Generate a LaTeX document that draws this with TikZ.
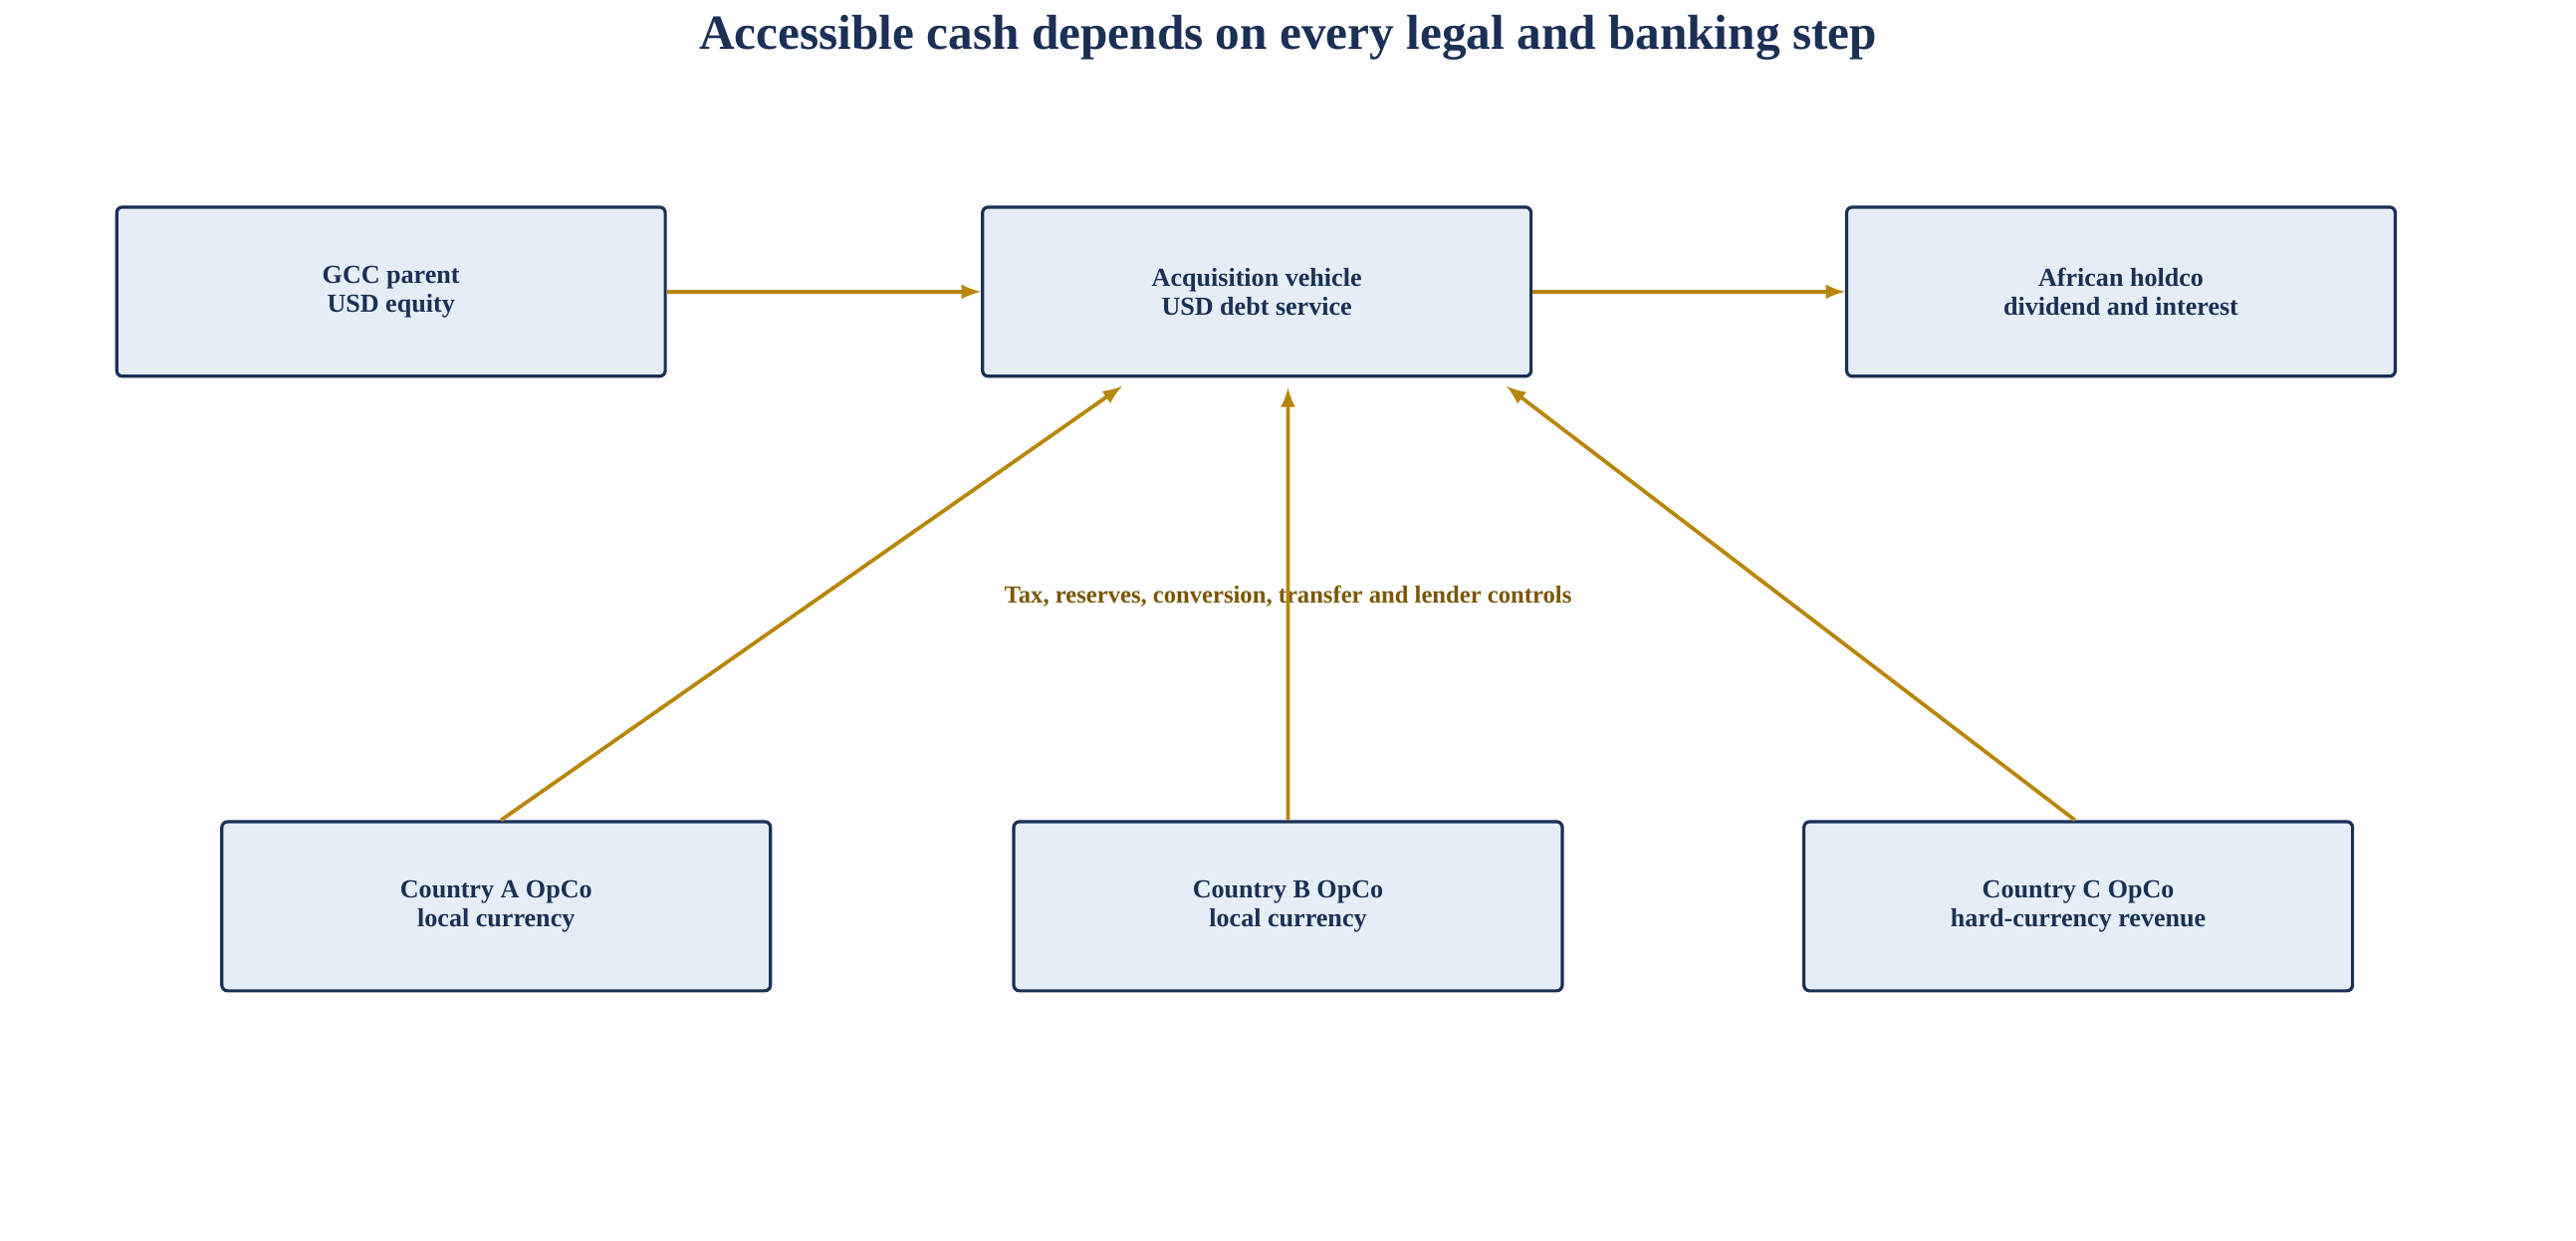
\documentclass[tikz,border=0pt]{standalone}
\usepackage{fontspec}
\setmainfont{Liberation Serif}
\usetikzlibrary{positioning}
\definecolor{navy}{HTML}{1A3055}
\definecolor{boxfill}{HTML}{E5EEF7}
\definecolor{gold}{HTML}{B8860B}
\definecolor{brown}{HTML}{7A5600}
\begin{document}
\begin{tikzpicture}[x=0.02cm, y=-0.02cm,
    entity/.style={rectangle, rounded corners=2pt, draw=navy, line width=1.1pt, fill=boxfill, minimum width=6.68cm, minimum height=2.06cm, align=center, text=navy, font=\fontsize{9}{10}\selectfont\bfseries},
    flow/.style={->, >=latex, draw=gold, line width=1.3pt}]

\useasboundingbox (0,0) rectangle (1568,755);

% Title
\node[text=navy, font=\fontsize{17}{20}\selectfont\bfseries] (title) at (784,23) {Accessible cash depends on every legal and banking step};

% Top row
\node[entity] (gcc) at (238,177.5) {GCC parent\\USD equity};
\node[entity] (acq) at (765,177.5) {Acquisition vehicle\\USD debt service};
\node[entity] (holdco) at (1291,177.5) {African holdco\\dividend and interest};

% Operating companies
\node[entity] (opa) at (302,551.5) {Country A OpCo\\local currency};
\node[entity] (opb) at (784,551.5) {Country B OpCo\\local currency};
\node[entity] (opc) at (1265,551.5) {Country C OpCo\\hard-currency revenue};

% Controls
\node[text=brown, font=\fontsize{8.5}{10}\selectfont\bfseries] (controls) at (784,363) {Tax, reserves, conversion, transfer and lender controls};

% Connections
\draw[flow] (gcc) -- (acq);
\draw[flow] (acq) -- (holdco);
\draw[flow] ([xshift=0.06cm]opa.north) -- ([xshift=-1.64cm, yshift=-0.1cm]acq.south);
\draw[flow] (opb.north) -- ([xshift=0.38cm, yshift=-0.12cm]acq.south);
\draw[flow] ([xshift=-0.04cm]opc.north) -- ([xshift=3.04cm, yshift=-0.1cm]acq.south);

\end{tikzpicture}
\end{document}
